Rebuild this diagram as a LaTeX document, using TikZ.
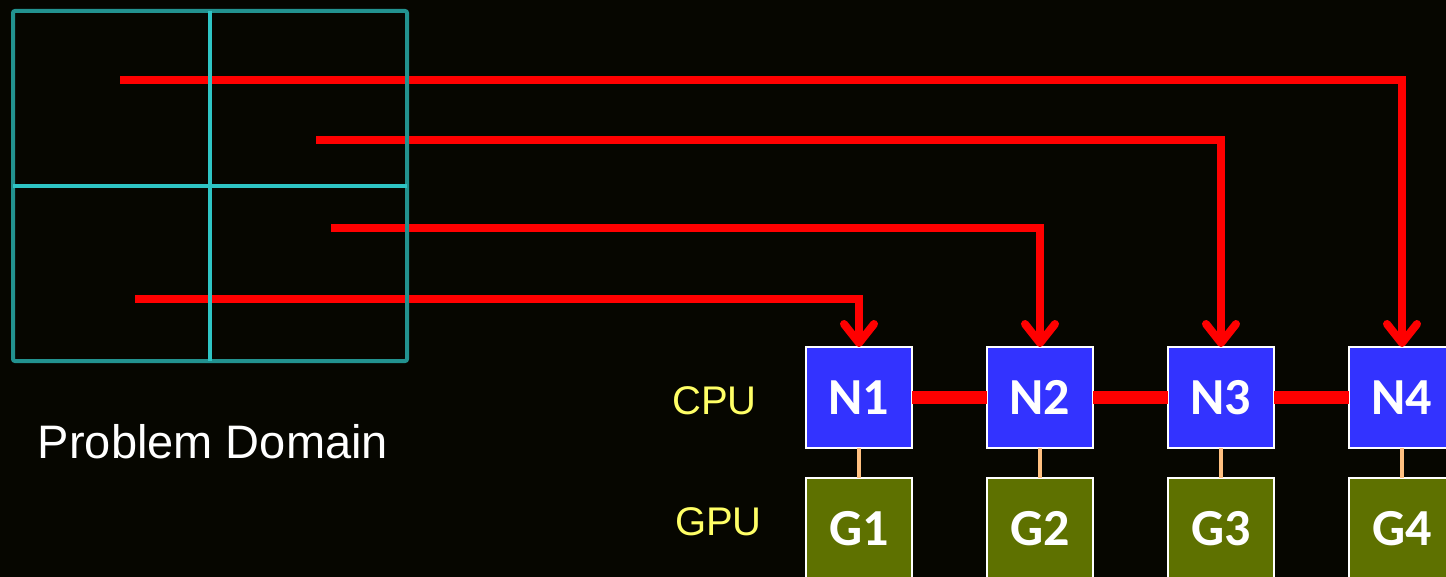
\documentclass[tikz,border=0pt]{standalone}
\usepackage{fontspec}
\setmainfont{Liberation Sans}
\newfontfamily\labelfont{Liberation Sans}
\newfontfamily\boxfont{Carlito}
\usepackage{tikz}
\usetikzlibrary{arrows.meta,positioning}

\definecolor{bgdark}{RGB}{6,6,0}
\definecolor{nblue}{RGB}{51,51,255}
\definecolor{golive}{RGB}{94,113,0}
\definecolor{gridout}{RGB}{34,146,143}
\definecolor{gridin}{RGB}{46,196,196}
\definecolor{linkpeach}{RGB}{255,192,128}
\definecolor{lblyellow}{RGB}{255,255,102}

\begin{document}
\begin{tikzpicture}[
  x=1pt, y=-1pt,
  node distance=30pt and 75pt,
  unit/.style={draw=white, line width=1.5pt, fill=#1, text=white, minimum width=106pt, minimum height=101pt, inner sep=0pt, outer sep=0pt, font=\boxfont\bfseries\fontsize{52}{62}\selectfont},
  unit/.default=nblue,
  lbl/.style={text=lblyellow, inner sep=0pt, font=\labelfont\fontsize{40}{48}\selectfont},
  bus/.style={red, line width=12.5pt},
  pcie/.style={linkpeach, line width=4pt},
  feed/.style={-{Straight Barb[length=19pt, width=30pt, round]}, red, line width=8pt},
  gridbox/.style={draw=gridout, line width=4pt, minimum width=394pt, minimum height=350pt, inner sep=0pt, outer sep=0pt, rounded corners=2pt},
  cell/.style={gridin, line width=4pt}
]
\fill[bgdark] (0,0) rectangle (1446,577);
\useasboundingbox (0,0) rectangle (1446,577);

% compute nodes
\node[unit] (N1) at (859,397.5) {N1};
\node[unit, right=of N1] (N2) {N2};
\node[unit, right=of N2] (N3) {N3};
\node[unit, right=of N3] (N4) {N4};
\node[unit=golive, below=of N1] (G1) {G1};
\node[unit=golive, below=of N2] (G2) {G2};
\node[unit=golive, below=of N3] (G3) {G3};
\node[unit=golive, below=of N4] (G4) {G4};

\node[lbl, left=49pt of N1, yshift=-3.5pt] (cpu) {CPU};
\node[lbl, left=44pt of G1, yshift=6.8pt] (gpu) {GPU};

\draw[bus] (N1) -- (N2);
\draw[bus] (N2) -- (N3);
\draw[bus] (N3) -- (N4);
\foreach \i in {1,...,4}
  \draw[pcie] (N\i) -- (G\i);

% sub-domains sent to the nodes
\coordinate (s1) at (120,80);
\coordinate (s2) at (316,140);
\coordinate (s3) at (331,228);
\coordinate (s4) at (135,299);
\draw[feed] (s1) -| (N4.north);
\draw[feed] (s2) -| (N3.north);
\draw[feed] (s3) -| (N2.north);
\draw[feed] (s4) -| (N1.north);

% problem domain grid
\node[gridbox] (D) at (210,186) {};
\draw[cell] (D.north) -- (D.south);
\draw[cell] (D.west) -- (D.east);
\node[below=63pt of D, xshift=3pt, inner sep=0pt, text=white, font=\labelfont\fontsize{47}{56}\selectfont] (pd) {Problem Domain};
\end{tikzpicture}
\end{document}
